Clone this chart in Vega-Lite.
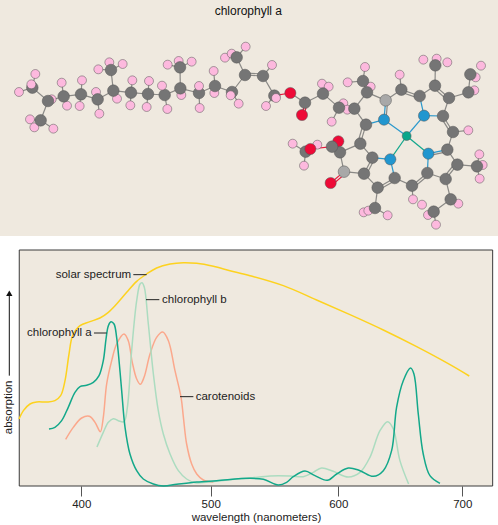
{
"$schema":"https://vega.github.io/schema/vega-lite/v6.json",
"width":498,"height":525,
"padding":0,"spacing":13,"background":"white",
"config":{"view":{"stroke":null},"font":"Liberation Sans","concat":{"spacing":13}},
"datasets":{
"atoms":[
{"x":106,"y":222,"t":"H"},{"x":57,"y":276,"t":"H"},{"x":90,"y":358,"t":"H"},{"x":103,"y":382,"t":"H"},{"x":160,"y":386,"t":"H"},{"x":155,"y":298,"t":"H"},{"x":185,"y":248,"t":"H"},{"x":201,"y":317,"t":"H"},{"x":246,"y":241,"t":"H"},{"x":239,"y":318,"t":"H"},{"x":288,"y":276,"t":"H"},{"x":298,"y":341,"t":"H"},{"x":295,"y":208,"t":"H"},{"x":328,"y":187,"t":"H"},{"x":368,"y":192,"t":"H"},{"x":351,"y":296,"t":"H"},{"x":397,"y":241,"t":"H"},{"x":391,"y":316,"t":"H"},{"x":447,"y":243,"t":"H"},{"x":440,"y":321,"t":"H"},{"x":502,"y":327,"t":"H"},{"x":503,"y":194,"t":"H"},{"x":536,"y":183,"t":"H"},{"x":575,"y":185,"t":"H"},{"x":544,"y":285,"t":"H"},{"x":599,"y":324,"t":"H"},{"x":641,"y":213,"t":"H"},{"x":643,"y":279,"t":"H"},{"x":716,"y":311,"t":"H"},{"x":675,"y":173,"t":"H"},{"x":695,"y":161,"t":"H"},{"x":737,"y":140,"t":"H"},
{"x":816,"y":195,"t":"H"},{"x":798,"y":318,"t":"H"},{"x":966,"y":251,"t":"H"},{"x":986,"y":260,"t":"H"},{"x":1030,"y":310,"t":"H"},{"x":1042,"y":329,"t":"H"},{"x":995,"y":365,"t":"H"},{"x":1043,"y":247,"t":"H"},{"x":1095,"y":201,"t":"H"},{"x":1112,"y":260,"t":"H"},{"x":1199,"y":224,"t":"H"},{"x":1270,"y":179,"t":"H"},{"x":1310,"y":176,"t":"H"},{"x":1342,"y":187,"t":"H"},{"x":1443,"y":197,"t":"H"},{"x":1427,"y":232,"t":"H"},{"x":1423,"y":271,"t":"H"},{"x":1405,"y":391,"t":"H"},{"x":1438,"y":463,"t":"H"},{"x":1448,"y":495,"t":"H"},{"x":1439,"y":536,"t":"H"},{"x":1375,"y":611,"t":"H"},{"x":1284,"y":645,"t":"H"},{"x":1308,"y":674,"t":"H"},{"x":1239,"y":598,"t":"H"},{"x":1266,"y":614,"t":"H"},{"x":1091,"y":637,"t":"H"},{"x":1105,"y":632,"t":"H"},{"x":1163,"y":646,"t":"H"},{"x":878,"y":431,"t":"H"},{"x":952,"y":434,"t":"H"},{"x":912,"y":497,"t":"H"},
{"x":97,"y":263,"t":"C"},{"x":144,"y":303,"t":"C"},{"x":122,"y":361,"t":"C"},{"x":191,"y":289,"t":"C"},{"x":243,"y":283,"t":"C"},{"x":293,"y":298,"t":"C"},{"x":340,"y":272,"t":"C"},{"x":333,"y":210,"t":"C"},{"x":393,"y":278,"t":"C"},{"x":444,"y":282,"t":"C"},{"x":494,"y":285,"t":"C"},{"x":541,"y":265,"t":"C"},{"x":540,"y":202,"t":"C"},{"x":597,"y":279,"t":"C"},{"x":645,"y":258,"t":"C"},{"x":696,"y":276,"t":"C"},{"x":710,"y":172,"t":"C"},{"x":735,"y":225,"t":"C"},
{"x":789,"y":228,"t":"C"},{"x":823,"y":287,"t":"C"},{"x":915,"y":308,"t":"C"},{"x":969,"y":281,"t":"C"},{"x":1017,"y":323,"t":"C"},{"x":1063,"y":326,"t":"C"},{"x":1089,"y":243,"t":"C"},{"x":1101,"y":277,"t":"C"},{"x":1098,"y":374,"t":"C"},{"x":1081,"y":431,"t":"C"},{"x":1204,"y":269,"t":"C"},{"x":1259,"y":288,"t":"C"},{"x":1305,"y":257,"t":"C"},{"x":1347,"y":294,"t":"C"},{"x":1329,"y":348,"t":"C"},{"x":1359,"y":396,"t":"C"},{"x":1342,"y":449,"t":"C"},{"x":1372,"y":494,"t":"C"},{"x":1337,"y":537,"t":"C"},{"x":1282,"y":519,"t":"C"},{"x":1236,"y":557,"t":"C"},{"x":1184,"y":534,"t":"C"},{"x":1133,"y":563,"t":"C"},{"x":1092,"y":521,"t":"C"},{"x":1117,"y":473,"t":"C"},{"x":1015,"y":424,"t":"O"},{"x":1020,"y":457,"t":"C"},{"x":996,"y":440,"t":"C"},{"x":917,"y":455,"t":"C"},{"x":1125,"y":624,"t":"C"},{"x":1352,"y":598,"t":"C"},{"x":1301,"y":635,"t":"C"},{"x":1431,"y":499,"t":"C"},{"x":1405,"y":277,"t":"C"},{"x":1411,"y":223,"t":"C"},{"x":1306,"y":196,"t":"C"},
{"x":1157,"y":301,"t":"L"},{"x":1032,"y":515,"t":"L"},
{"x":1152,"y":359,"t":"N"},{"x":1272,"y":347,"t":"N"},{"x":1285,"y":461,"t":"N"},{"x":1171,"y":478,"t":"N"},
{"x":1220,"y":408,"t":"M"},
{"x":871,"y":279,"t":"O"},{"x":906,"y":345,"t":"O"},{"x":931,"y":447,"t":"O"},{"x":992,"y":549,"t":"O"},
{"x":94,"y":253,"t":"H"},{"x":486,"y":257,"t":"H"},{"x":597,"y":258,"t":"H"},{"x":692,"y":286,"t":"H"},{"x":828,"y":294,"t":"H"}
],
"bonds":[
{"x":97,"y":263,"x2":144,"y2":303,"k":"c"},{"x":144,"y":303,"x2":122,"y2":361,"k":"c"},{"x":144,"y":303,"x2":191,"y2":289,"k":"c"},{"x":191,"y":289,"x2":243,"y2":283,"k":"c"},{"x":243,"y":283,"x2":293,"y2":298,"k":"c"},{"x":293,"y":298,"x2":340,"y2":272,"k":"c"},{"x":340,"y":272,"x2":333,"y2":210,"k":"c"},{"x":340,"y":272,"x2":393,"y2":278,"k":"c"},{"x":393,"y":278,"x2":444,"y2":282,"k":"c"},{"x":444,"y":282,"x2":494,"y2":285,"k":"c"},{"x":494,"y":285,"x2":541,"y2":265,"k":"c"},{"x":541,"y":265,"x2":540,"y2":202,"k":"c"},{"x":541,"y":265,"x2":597,"y2":279,"k":"c"},{"x":597,"y":279,"x2":645,"y2":258,"k":"c"},{"x":645,"y":258,"x2":696,"y2":276,"k":"c"},{"x":696,"y":276,"x2":735,"y2":225,"k":"c"},{"x":735,"y":225,"x2":710,"y2":172,"k":"c"},{"x":735,"y":225,"x2":789,"y2":228,"k":"c"},{"x":735,"y":219,"x2":789,"y2":222,"k":"c"},{"x":789,"y":228,"x2":823,"y2":287,"k":"c"},{"x":823,"y":287,"x2":871,"y2":279,"k":"o"},{"x":871,"y":279,"x2":915,"y2":308,"k":"c"},{"x":915,"y":308,"x2":906,"y2":345,"k":"o"},{"x":921,"y":310,"x2":912,"y2":347,"k":"o"},{"x":915,"y":308,"x2":969,"y2":281,"k":"c"},{"x":969,"y":281,"x2":1017,"y2":323,"k":"c"},{"x":1017,"y":323,"x2":1063,"y2":326,"k":"c"},{"x":1063,"y":326,"x2":1101,"y2":277,"k":"c"},{"x":1101,"y":277,"x2":1089,"y2":243,"k":"c"},{"x":1101,"y":277,"x2":1157,"y2":301,"k":"c"},{"x":1063,"y":326,"x2":1098,"y2":374,"k":"c"},{"x":1157,"y":301,"x2":1152,"y2":359,"k":"n"},{"x":1163,"y":301,"x2":1158,"y2":359,"k":"c"},{"x":1098,"y":374,"x2":1152,"y2":359,"k":"n"},{"x":1098,"y":374,"x2":1081,"y2":431,"k":"c"},{"x":1090,"y":372,"x2":1073,"y2":429,"k":"c"},{"x":1157,"y":301,"x2":1204,"y2":269,"k":"c"},{"x":1204,"y":269,"x2":1259,"y2":288,"k":"c"},{"x":1202,"y":276,"x2":1257,"y2":295,"k":"c"},{"x":1259,"y":288,"x2":1305,"y2":257,"k":"c"},{"x":1305,"y":257,"x2":1347,"y2":294,"k":"c"},{"x":1300,"y":263,"x2":1342,"y2":300,"k":"c"},{"x":1305,"y":257,"x2":1306,"y2":196,"k":"c"},{"x":1347,"y":294,"x2":1329,"y2":348,"k":"c"},{"x":1347,"y":294,"x2":1405,"y2":277,"k":"c"},{"x":1405,"y":277,"x2":1411,"y2":223,"k":"c"},{"x":1259,"y":288,"x2":1272,"y2":347,"k":"n"},{"x":1272,"y":347,"x2":1329,"y2":348,"k":"n"},{"x":1329,"y":348,"x2":1359,"y2":396,"k":"c"},{"x":1323,"y":352,"x2":1353,"y2":400,"k":"c"},{"x":1359,"y":396,"x2":1342,"y2":449,"k":"c"},{"x":1342,"y":449,"x2":1285,"y2":461,"k":"n"},{"x":1343,"y":455,"x2":1286,"y2":467,"k":"c"},{"x":1342,"y":449,"x2":1372,"y2":494,"k":"c"},{"x":1372,"y":494,"x2":1431,"y2":499,"k":"c"},{"x":1372,"y":494,"x2":1337,"y2":537,"k":"c"},{"x":1366,"y":489,"x2":1331,"y2":532,"k":"c"},{"x":1337,"y":537,"x2":1282,"y2":519,"k":"c"},{"x":1285,"y":461,"x2":1282,"y2":519,"k":"n"},{"x":1282,"y":519,"x2":1236,"y2":557,"k":"c"},{"x":1286,"y":525,"x2":1240,"y2":563,"k":"c"},{"x":1236,"y":557,"x2":1184,"y2":534,"k":"c"},{"x":1184,"y":534,"x2":1171,"y2":478,"k":"n"},{"x":1171,"y":478,"x2":1117,"y2":473,"k":"n"},{"x":1184,"y":534,"x2":1133,"y2":563,"k":"c"},{"x":1187,"y":541,"x2":1136,"y2":570,"k":"c"},{"x":1133,"y":563,"x2":1092,"y2":521,"k":"c"},{"x":1133,"y":563,"x2":1125,"y2":624,"k":"c"},{"x":1092,"y":521,"x2":1117,"y2":473,"k":"c"},{"x":1099,"y":524,"x2":1124,"y2":476,"k":"c"},{"x":1117,"y":473,"x2":1081,"y2":431,"k":"c"},{"x":1081,"y":431,"x2":1020,"y2":457,"k":"c"},{"x":1020,"y":457,"x2":996,"y2":440,"k":"c"},{"x":996,"y":440,"x2":1015,"y2":424,"k":"o"},{"x":1000,"y":446,"x2":1019,"y2":430,"k":"o"},{"x":996,"y":440,"x2":931,"y2":447,"k":"o"},{"x":931,"y":447,"x2":917,"y2":455,"k":"c"},{"x":1020,"y":457,"x2":1032,"y2":515,"k":"c"},{"x":1032,"y":515,"x2":1092,"y2":521,"k":"c"},{"x":1032,"y":515,"x2":992,"y2":549,"k":"o"},{"x":1036,"y":521,"x2":996,"y2":555,"k":"o"},{"x":1337,"y":537,"x2":1352,"y2":598,"k":"c"},{"x":1352,"y":598,"x2":1301,"y2":635,"k":"c"},
{"x":1220,"y":408,"x2":1152,"y2":359,"k":"n"},{"x":1220,"y":408,"x2":1272,"y2":347,"k":"n"},{"x":1220,"y":408,"x2":1285,"y2":461,"k":"m"},{"x":1220,"y":408,"x2":1171,"y2":478,"k":"m"},
{"x":106,"y":222,"x2":97,"y2":263,"k":"c"},{"x":57,"y":276,"x2":97,"y2":263,"k":"c"},{"x":90,"y":358,"x2":122,"y2":361,"k":"c"},{"x":160,"y":386,"x2":122,"y2":361,"k":"c"},{"x":185,"y":248,"x2":191,"y2":289,"k":"c"},{"x":201,"y":317,"x2":191,"y2":289,"k":"c"},{"x":246,"y":241,"x2":243,"y2":283,"k":"c"},{"x":239,"y":318,"x2":243,"y2":283,"k":"c"},{"x":298,"y":341,"x2":293,"y2":298,"k":"c"},{"x":295,"y":208,"x2":333,"y2":210,"k":"c"},{"x":368,"y":192,"x2":333,"y2":210,"k":"c"},{"x":397,"y":241,"x2":393,"y2":278,"k":"c"},{"x":391,"y":316,"x2":393,"y2":278,"k":"c"},{"x":447,"y":243,"x2":444,"y2":282,"k":"c"},{"x":440,"y":321,"x2":444,"y2":282,"k":"c"},{"x":502,"y":327,"x2":494,"y2":285,"k":"c"},{"x":503,"y":194,"x2":540,"y2":202,"k":"c"},{"x":575,"y":185,"x2":540,"y2":202,"k":"c"},{"x":599,"y":324,"x2":597,"y2":279,"k":"c"},{"x":641,"y":213,"x2":645,"y2":258,"k":"c"},{"x":716,"y":311,"x2":696,"y2":276,"k":"c"},{"x":737,"y":140,"x2":710,"y2":172,"k":"c"},{"x":816,"y":195,"x2":789,"y2":228,"k":"c"},{"x":798,"y":318,"x2":823,"y2":287,"k":"c"},{"x":1095,"y":201,"x2":1089,"y2":243,"k":"c"},{"x":1043,"y":247,"x2":1089,"y2":243,"k":"c"},{"x":1199,"y":224,"x2":1204,"y2":269,"k":"c"},{"x":1405,"y":391,"x2":1359,"y2":396,"k":"c"},{"x":1438,"y":463,"x2":1431,"y2":499,"k":"c"},{"x":1439,"y":536,"x2":1431,"y2":499,"k":"c"},{"x":1239,"y":598,"x2":1236,"y2":557,"k":"c"},{"x":1091,"y":637,"x2":1125,"y2":624,"k":"c"},{"x":1163,"y":646,"x2":1125,"y2":624,"k":"c"},{"x":878,"y":431,"x2":917,"y2":455,"k":"c"},{"x":912,"y":497,"x2":917,"y2":455,"k":"c"},{"x":995,"y":365,"x2":1017,"y2":323,"k":"c"},{"x":966,"y":251,"x2":969,"y2":281,"k":"c"},{"x":1375,"y":611,"x2":1352,"y2":598,"k":"c"},{"x":1308,"y":674,"x2":1301,"y2":635,"k":"c"}
],
"curves":[
{"s":"solar","w":351.8,"a":201},{"s":"solar","w":355.2,"a":226},{"s":"solar","w":360.3,"a":246},{"s":"solar","w":365.5,"a":252},{"s":"solar","w":373.2,"a":252},{"s":"solar","w":379.6,"a":256},{"s":"solar","w":384,"a":271},{"s":"solar","w":387.4,"a":316},{"s":"solar","w":390.5,"a":396},{"s":"solar","w":393.3,"a":451},{"s":"solar","w":399,"a":481},{"s":"solar","w":406.7,"a":493},{"s":"solar","w":414.4,"a":504},{"s":"solar","w":420.9,"a":521},{"s":"solar","w":427.3,"a":546},{"s":"solar","w":435.1,"a":581},{"s":"solar","w":442.8,"a":614},{"s":"solar","w":450.5,"a":636},{"s":"solar","w":458.2,"a":654},{"s":"solar","w":468.6,"a":666},{"s":"solar","w":478.9,"a":670},{"s":"solar","w":489.2,"a":668},{"s":"solar","w":502.1,"a":659},{"s":"solar","w":515.1,"a":646},{"s":"solar","w":530.8,"a":631},{"s":"solar","w":556.9,"a":601},{"s":"solar","w":583,"a":558},{"s":"solar","w":609.4,"a":514},{"s":"solar","w":636.3,"a":468},{"s":"solar","w":663.2,"a":418},{"s":"solar","w":690.1,"a":364},{"s":"solar","w":705.6,"a":330},
{"s":"carotenoids","w":387.9,"a":140},{"s":"carotenoids","w":393.8,"a":176},{"s":"carotenoids","w":400.3,"a":204},{"s":"carotenoids","w":406.2,"a":209},{"s":"carotenoids","w":410.6,"a":191},{"s":"carotenoids","w":414.7,"a":163},{"s":"carotenoids","w":417,"a":206},{"s":"carotenoids","w":419.6,"a":306},{"s":"carotenoids","w":423.5,"a":376},{"s":"carotenoids","w":427.3,"a":426},{"s":"carotenoids","w":433,"a":456},{"s":"carotenoids","w":436.3,"a":436},{"s":"carotenoids","w":439.4,"a":371},{"s":"carotenoids","w":442.8,"a":321},{"s":"carotenoids","w":445.6,"a":305},{"s":"carotenoids","w":448.5,"a":326},{"s":"carotenoids","w":453.1,"a":396},{"s":"carotenoids","w":458.2,"a":446},{"s":"carotenoids","w":462.9,"a":462},{"s":"carotenoids","w":467.3,"a":436},{"s":"carotenoids","w":472.4,"a":346},{"s":"carotenoids","w":477.1,"a":266},{"s":"carotenoids","w":478.9,"a":206},{"s":"carotenoids","w":481.4,"a":126},{"s":"carotenoids","w":485.3,"a":66},{"s":"carotenoids","w":489.2,"a":36},{"s":"carotenoids","w":494.3,"a":18},{"s":"carotenoids","w":502.1,"a":11},
{"s":"chlorophyll b","w":412.1,"a":117},{"s":"chlorophyll b","w":417,"a":161},{"s":"chlorophyll b","w":420.9,"a":191},{"s":"chlorophyll b","w":424.7,"a":202},{"s":"chlorophyll b","w":428.6,"a":196},{"s":"chlorophyll b","w":433,"a":193},{"s":"chlorophyll b","w":435.6,"a":236},{"s":"chlorophyll b","w":438.9,"a":406},{"s":"chlorophyll b","w":442.8,"a":556},{"s":"chlorophyll b","w":445.4,"a":606},{"s":"chlorophyll b","w":446.9,"a":610},{"s":"chlorophyll b","w":448.7,"a":596},{"s":"chlorophyll b","w":451.8,"a":486},{"s":"chlorophyll b","w":455.7,"a":336},{"s":"chlorophyll b","w":459.5,"a":226},{"s":"chlorophyll b","w":463.4,"a":156},{"s":"chlorophyll b","w":468.6,"a":96},{"s":"chlorophyll b","w":475,"a":46},{"s":"chlorophyll b","w":481.4,"a":21},{"s":"chlorophyll b","w":487.9,"a":10},{"s":"chlorophyll b","w":496.9,"a":11},{"s":"chlorophyll b","w":512.7,"a":18},{"s":"chlorophyll b","w":530.8,"a":24},{"s":"chlorophyll b","w":546.5,"a":30},{"s":"chlorophyll b","w":562.1,"a":30},{"s":"chlorophyll b","w":572.5,"a":28},{"s":"chlorophyll b","w":580.4,"a":41},{"s":"chlorophyll b","w":586.9,"a":54},{"s":"chlorophyll b","w":596,"a":44},{"s":"chlorophyll b","w":608.1,"a":27},{"s":"chlorophyll b","w":617.5,"a":41},{"s":"chlorophyll b","w":625.5,"a":86},{"s":"chlorophyll b","w":633.6,"a":166},{"s":"chlorophyll b","w":639.8,"a":193},{"s":"chlorophyll b","w":644.4,"a":171},{"s":"chlorophyll b","w":649.7,"a":76},{"s":"chlorophyll b","w":656.7,"a":6},
{"s":"chlorophyll a","w":375,"a":171},{"s":"chlorophyll a","w":379.6,"a":176},{"s":"chlorophyll a","w":384.8,"a":196},{"s":"chlorophyll a","w":389.9,"a":236},{"s":"chlorophyll a","w":395.1,"a":281},{"s":"chlorophyll a","w":399,"a":298},{"s":"chlorophyll a","w":404.1,"a":302},{"s":"chlorophyll a","w":409.3,"a":311},{"s":"chlorophyll a","w":413.7,"a":331},{"s":"chlorophyll a","w":417,"a":376},{"s":"chlorophyll a","w":419.1,"a":441},{"s":"chlorophyll a","w":420.9,"a":481},{"s":"chlorophyll a","w":422.9,"a":493},{"s":"chlorophyll a","w":425.3,"a":486},{"s":"chlorophyll a","w":427.3,"a":446},{"s":"chlorophyll a","w":429.4,"a":366},{"s":"chlorophyll a","w":431.2,"a":286},{"s":"chlorophyll a","w":433.8,"a":176},{"s":"chlorophyll a","w":437.6,"a":96},{"s":"chlorophyll a","w":442.8,"a":46},{"s":"chlorophyll a","w":447.9,"a":21},{"s":"chlorophyll a","w":455.7,"a":6},{"s":"chlorophyll a","w":463.4,"a":0},{"s":"chlorophyll a","w":473.7,"a":5},{"s":"chlorophyll a","w":489.2,"a":12},{"s":"chlorophyll a","w":504.7,"a":16},{"s":"chlorophyll a","w":530.8,"a":23},{"s":"chlorophyll a","w":541.3,"a":20},{"s":"chlorophyll a","w":553,"a":3},{"s":"chlorophyll a","w":559.5,"a":11},{"s":"chlorophyll a","w":564.7,"a":28},{"s":"chlorophyll a","w":573.9,"a":45},{"s":"chlorophyll a","w":581.7,"a":31},{"s":"chlorophyll a","w":591.4,"a":17},{"s":"chlorophyll a","w":598.7,"a":36},{"s":"chlorophyll a","w":608.1,"a":54},{"s":"chlorophyll a","w":617.5,"a":46},{"s":"chlorophyll a","w":628.2,"a":29},{"s":"chlorophyll a","w":636.3,"a":46},{"s":"chlorophyll a","w":643,"a":106},{"s":"chlorophyll a","w":647,"a":236},{"s":"chlorophyll a","w":652.4,"a":316},{"s":"chlorophyll a","w":658.3,"a":354},{"s":"chlorophyll a","w":661,"a":336},{"s":"chlorophyll a","w":664.5,"a":216},{"s":"chlorophyll a","w":668.5,"a":96},{"s":"chlorophyll a","w":673.9,"a":31},{"s":"chlorophyll a","w":682,"a":8}
]
},
"vconcat":[
{"width":498,"height":236,"view":{"fill":"#efe9df","stroke":null},
"layer":[
{"data":{"name":"bonds"},"mark":{"type":"rule","strokeWidth":1.2},
"encoding":{"x":{"field":"x","type":"quantitative","scale":{"domain":[0,1494],"nice":false,"zero":false},"axis":null},"y":{"field":"y","type":"quantitative","scale":{"domain":[708,0],"nice":false,"zero":false},"axis":null},"x2":{"field":"x2"},"y2":{"field":"y2"},
"color":{"field":"k","type":"nominal","legend":null,"scale":{"domain":["c","n","m","o"],"range":["#8a8986","#2a98cc","#12a68c","#e8173d"]}}}},
{"data":{"name":"atoms"},"mark":{"type":"point","shape":"circle","filled":true,"opacity":1,"strokeWidth":0.5},
"encoding":{"x":{"field":"x","type":"quantitative"},"y":{"field":"y","type":"quantitative"},
"color":{"field":"t","type":"nominal","legend":null,"scale":{"domain":["H","C","L","N","M","O"],"range":["#fdb9de","#757575","#a8a8a8","#2196cf","#09a68b","#ee0a37"]}},
"size":{"field":"t","type":"nominal","legend":null,"scale":{"type":"ordinal","domain":["H","C","L","N","M","O"],"range":[80,135,135,125,80,125]}},
"stroke":{"value":"#555555"}}},
{"data":{"values":[{"x":745,"y":33,"label":"chlorophyll a"}]},"mark":{"type":"text","font":"Liberation Sans","fontSize":12,"color":"#111"},
"encoding":{"x":{"field":"x","type":"quantitative"},"y":{"field":"y","type":"quantitative"},"text":{"field":"label"}}}
],"resolve":{"scale":{"color":"independent"}}},
{"width":498,"height":236,
"layer":[
{"data":{"values":[{"x":352,"x2":724.5,"y":0,"y2":708}]},"mark":{"type":"rect","fill":"#efe9df","stroke":"#3a3a3a","strokeWidth":1},
"encoding":{"x":{"field":"x","type":"quantitative","scale":{"domain":[337.1,400,500,600,700,728.8],"range":[0,81.3,210.7,338.3,462.3,498],"nice":false,"zero":false},
"axis":{"values":[400,500,600,700],"domain":false,"grid":false,"tickSize":10,"tickColor":"#555","tickWidth":1,"labelFont":"Liberation Sans","labelFontSize":11.5,"labelColor":"#222","labelPadding":2,"title":"wavelength (nanometers)","titleFont":"Liberation Sans","titleFontSize":11.5,"titleFontWeight":"normal","titleColor":"#222","titleX":256,"titleY":31,"titleBaseline":"middle","titleAlign":"center"}},
"x2":{"field":"x2"},"y":{"field":"y","type":"quantitative","scale":{"domain":[0,708],"nice":false,"zero":false},"axis":null},"y2":{"field":"y2"}}},
{"data":{"name":"curves"},"mark":{"type":"line","interpolate":"catmull-rom","strokeWidth":1.5},
"encoding":{"x":{"field":"w","type":"quantitative"},"y":{"field":"a","type":"quantitative"},
"color":{"field":"s","type":"nominal","legend":null,"sort":["solar","carotenoids","chlorophyll b","chlorophyll a"],"scale":{"domain":["solar","carotenoids","chlorophyll b","chlorophyll a"],"range":["#fdd21f","#fba88c","#acdcc0","#13a88a"]}},
"order":{"field":"w"}}},
{"data":{"values":[{"x":440.2,"x2":450.5,"y":634},{"x":450,"x2":460.3,"y":559},{"x":409.8,"x2":419.6,"y":459},{"x":476.3,"x2":486.6,"y":268}]},"mark":{"type":"rule","color":"#222","strokeWidth":1},
"encoding":{"x":{"field":"x","type":"quantitative"},"x2":{"field":"x2"},"y":{"field":"y","type":"quantitative"}}},
{"data":{"values":[{"x":380.2,"y":634,"label":"solar spectrum"},{"x":462.4,"y":559,"label":"chlorophyll b"},{"x":358,"y":460,"label":"chlorophyll a"},{"x":488.4,"y":268,"label":"carotenoids"}]},"mark":{"type":"text","align":"left","baseline":"middle","font":"Liberation Sans","fontSize":11.5,"color":"#222"},
"encoding":{"x":{"field":"x","type":"quantitative"},"y":{"field":"y","type":"quantitative"},"text":{"field":"label"}}},
{"data":{"values":[{"x":344.1,"y":236,"label":"absorption"}]},"mark":{"type":"text","angle":270,"align":"center","baseline":"middle","font":"Liberation Sans","fontSize":11.5,"color":"#222"},
"encoding":{"x":{"field":"x","type":"quantitative"},"y":{"field":"y","type":"quantitative"},"text":{"field":"label"}}},
{"data":{"values":[{"x":344.3,"y":331,"y2":575}]},"mark":{"type":"rule","color":"#111","strokeWidth":1},
"encoding":{"x":{"field":"x","type":"quantitative"},"y":{"field":"y","type":"quantitative"},"y2":{"field":"y2"}}},
{"data":{"values":[{"x":344.3,"y":578}]},"mark":{"type":"point","shape":"triangle-up","filled":true,"opacity":1,"color":"#111","size":40},
"encoding":{"x":{"field":"x","type":"quantitative"},"y":{"field":"y","type":"quantitative"}}}
]}
]
}
